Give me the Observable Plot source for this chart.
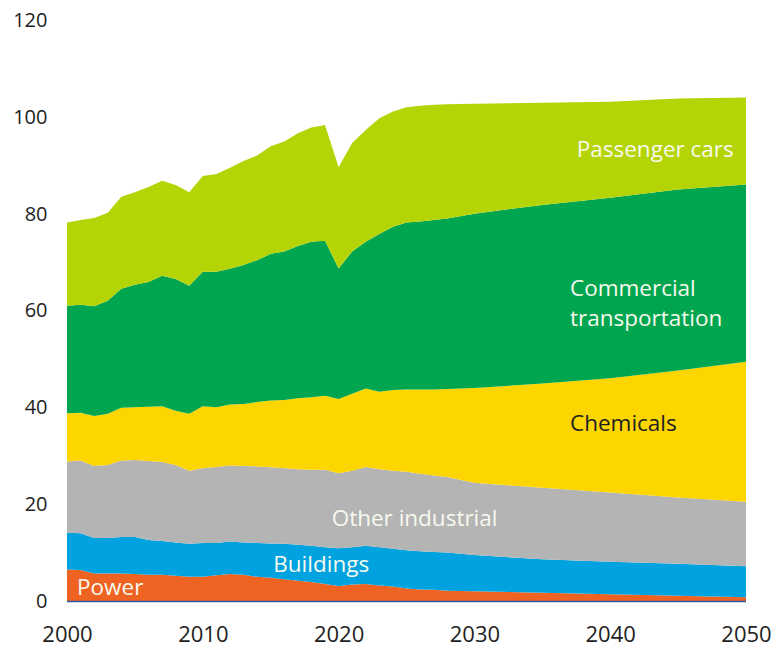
<!DOCTYPE html>
<html>
<head>
<meta charset="utf-8">
<script src="https://cdn.jsdelivr.net/npm/d3@7"></script>
<script src="https://cdn.jsdelivr.net/npm/@observablehq/plot@0.6"></script>
<style>
  html, body { margin: 0; padding: 0; background: #ffffff; }
  #chart { width: 775px; height: 651px; }
</style>
</head>
<body>
<div id="chart"></div>
<script>
// Years of the series
const years = [2000, 2001, 2002, 2003, 2004, 2005, 2006, 2007, 2008, 2009,
  2010, 2011, 2012, 2013, 2014, 2015, 2016, 2017, 2018, 2019,
  2020, 2021, 2022, 2023, 2024, 2025, 2026, 2027, 2028, 2030,
  2035, 2040, 2045, 2050];

// Sector values (stacked from bottom to top)
const power = [6.5, 6.4, 5.7, 5.7, 5.7, 5.6, 5.4, 5.4, 5.2, 5.0,
  5.0, 5.3, 5.6, 5.4, 5.0, 4.8, 4.5, 4.2, 3.9, 3.5,
  3.1, 3.4, 3.5, 3.2, 3.0, 2.6, 2.4, 2.3, 2.1, 2.0,
  1.7, 1.4, 1.1, 0.8];
const buildings = [7.6, 7.6, 7.3, 7.3, 7.5, 7.6, 7.2, 7.0, 6.9, 6.8,
  7.0, 6.7, 6.7, 6.7, 7.0, 7.1, 7.3, 7.4, 7.5, 7.6,
  7.8, 7.7, 7.9, 7.9, 7.8, 7.9, 7.9, 7.8, 7.9, 7.5,
  6.9, 6.7, 6.6, 6.4];
const otherIndustrial = [14.7, 15.0, 14.9, 15.1, 15.8, 15.9, 16.3, 16.3, 16.0, 15.1,
  15.4, 15.7, 15.7, 15.8, 15.8, 15.7, 15.6, 15.6, 15.7, 16.0,
  15.5, 15.8, 16.3, 16.1, 16.1, 16.2, 16.0, 15.8, 15.6, 14.9,
  14.8, 14.3, 13.7, 13.3];
const chemicals = [10.0, 9.9, 10.3, 10.6, 10.9, 10.9, 11.2, 11.5, 11.2, 11.8,
  12.8, 12.3, 12.6, 12.8, 13.3, 13.8, 14.1, 14.7, 15.0, 15.3,
  15.3, 15.9, 16.2, 16.0, 16.7, 17.0, 17.4, 17.8, 18.2, 19.6,
  21.5, 23.6, 26.2, 28.9];
const commercial = [22.2, 22.3, 22.7, 23.3, 24.6, 25.3, 25.8, 27.0, 27.2, 26.4,
  27.8, 28.0, 28.0, 28.7, 29.3, 30.3, 30.7, 31.4, 32.1, 32.0,
  27.0, 29.4, 30.3, 32.6, 33.7, 34.5, 34.7, 35.0, 35.2, 36.0,
  36.9, 37.3, 37.4, 36.6];
const passengerCars = [17.2, 17.5, 18.2, 18.2, 19.0, 19.1, 19.6, 19.6, 19.4, 19.3,
  19.8, 20.2, 20.9, 21.5, 21.6, 22.2, 22.7, 23.3, 23.6, 23.9,
  20.9, 22.4, 23.1, 23.9, 23.8, 23.8, 23.9, 23.8, 23.6, 22.7,
  21.1, 19.8, 18.8, 18.0];

const sectorNames = ["Power", "Buildings", "Other industrial", "Chemicals",
  "Commercial transportation", "Passenger cars"];
const sectorColors = ["#ef6322", "#00a3df", "#b4b4b4", "#fdd600", "#00a64f", "#b5d405"];
const sectorValues = [power, buildings, otherIndustrial, chemicals, commercial, passengerCars];

const xTicks = [2000, 2010, 2020, 2030, 2040, 2050];
const yTicks = [0, 20, 40, 60, 80, 100, 120];

const data = sectorNames.flatMap((name, s) =>
  years.map((year, i) => ({year, sector: name, value: sectorValues[s][i]})));

const labelFont = "'Open Sans', sans-serif";
const light = "#f7f9ee";
const labelSize = 22.5;

const chart = Plot.plot({
  width: 775,
  height: 651,
  marginLeft: 67,
  marginRight: 29,
  marginTop: 20,
  marginBottom: 50,
  style: {fontFamily: labelFont, background: "#ffffff", overflow: "visible"},
  x: {domain: [2000, 2050], label: null},
  y: {domain: [0, 120], label: null},
  color: {domain: sectorNames, range: sectorColors},
  marks: [
    Plot.areaY(data, {x: "year", y: "value", fill: "sector", z: "sector", order: sectorNames}),
    Plot.ruleY([0], {stroke: "#2f55a4", strokeWidth: 1.5}),
    Plot.axisX({ticks: xTicks, tickFormat: d => String(d), tickSize: 0, tickPadding: 25,
      fontSize: 22, color: "#222", label: null}),
    Plot.axisY({ticks: yTicks, tickSize: 0, tickPadding: 20,
      fontSize: 20, color: "#222", label: null}),
    Plot.text(["Passenger cars"], {x: 2037.5, y: 93.2, text: d => d, textAnchor: "start",
      fill: light, fontSize: labelSize}),
    Plot.text(["Commercial\ntransportation"], {x: 2037.0, y: 62.0, text: d => d, textAnchor: "start",
      fill: light, fontSize: labelSize, lineHeight: 1.33}),
    Plot.text(["Chemicals"], {x: 2037.0, y: 36.6, text: d => d, textAnchor: "start",
      fill: "#222", fontSize: labelSize}),
    Plot.text(["Other industrial"], {x: 2019.45, y: 17.1, text: d => d, textAnchor: "start",
      fill: light, fontSize: labelSize}),
    Plot.text(["Buildings"], {x: 2015.15, y: 7.6, text: d => d, textAnchor: "start",
      fill: light, fontSize: labelSize}),
    Plot.text(["Power"], {x: 2000.7, y: 2.9, text: d => d, textAnchor: "start",
      fill: light, fontSize: labelSize})
  ]
});
document.getElementById("chart").appendChild(chart);
</script>
</body>
</html>
